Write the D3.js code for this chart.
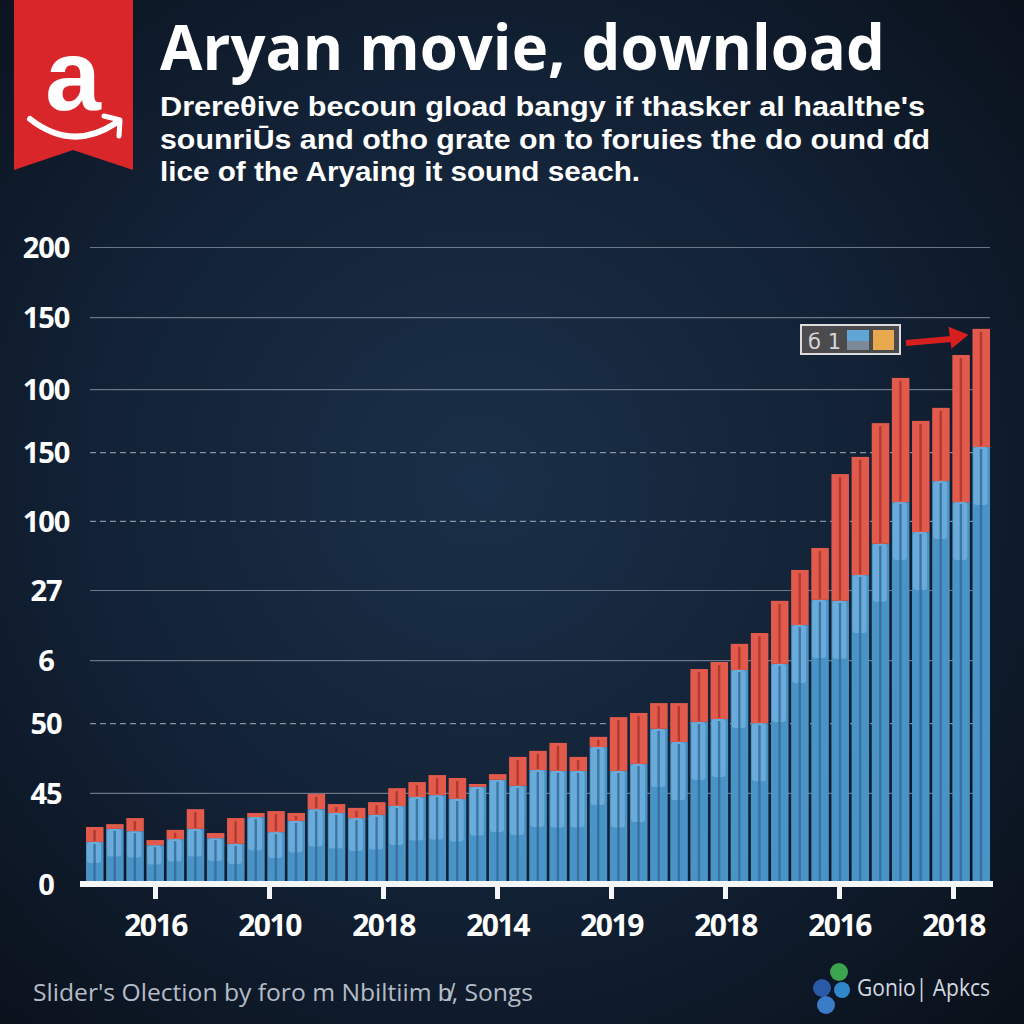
<!DOCTYPE html>
<html><head><meta charset="utf-8">
<script src="https://cdn.jsdelivr.net/npm/d3@7"></script>
<style>html,body{margin:0;padding:0;background:#0d1622;}svg{display:block}</style>
</head><body>
<script>
// ---------- data ----------
const titleText = "Aryan movie, download";
const subtitleLines = [
  "Drereθive becoun gload bangy if thasker al haalthe's",
  "sounriŪs and otho grate on to foruies the do ound ɗd",
  "lice of the Aryaing it sound seach."
];
const footerText = "Slider's Olection by foro m Nbiltiim b̸, Songs";
const brandText = "Gonio| Apkcs";
const badgeText = "б 1";

const yTickValues = [0, 28.6, 50.5, 70.3, 92.3, 114.0, 135.6, 155.4, 178.0, 200];
const yTickLabels = ["0", "45", "50", "6", "27", "100", "150", "100", "150", "200"];
const xTickLabels = ["2016", "2010", "2018", "2014", "2019", "2018", "2016", "2018"];

const blueValues = [13.2, 17.3, 16.6, 12.2, 14.1, 17.3, 14.4, 12.6, 21.0, 16.3,
  19.8, 23.5, 22.3, 20.7, 21.7, 24.5, 27.3, 27.9, 26.7, 30.5,
  32.7, 30.8, 35.8, 35.5, 35.5, 43.0, 35.5, 37.7, 48.7, 44.6,
  50.9, 51.8, 67.2, 50.5, 69.1, 81.3, 89.2, 88.9, 97.0, 106.8,
  119.9, 110.5, 126.5, 119.9, 137.2];
const redValues = [4.7, 1.5, 4.1, 1.6, 2.9, 6.2, 1.6, 8.1, 1.3, 6.6,
  2.5, 4.8, 2.8, 3.2, 4.0, 5.6, 4.7, 6.3, 6.6, 0.9,
  1.8, 9.1, 6.0, 8.8, 4.4, 3.2, 16.9, 16.0, 8.1, 12.2,
  16.6, 17.9, 8.2, 28.3, 19.8, 17.3, 16.3, 39.8, 37.1, 37.9,
  39.0, 34.9, 23.0, 46.2, 37.1];

// ---------- layout / style ----------
const W = 1024, H = 1024;
const dashedIdx = new Set([2, 5, 6]);

const svg = d3.select("body").append("svg").attr("width", W).attr("height", H);
const defs = svg.append("defs");
const rg = defs.append("radialGradient").attr("id", "bg").attr("cx", "47%").attr("cy", "47%").attr("r", "72%");
rg.append("stop").attr("offset", "0%").attr("stop-color", "#1a3048");
rg.append("stop").attr("offset", "55%").attr("stop-color", "#122135");
rg.append("stop").attr("offset", "100%").attr("stop-color", "#0a111b");
svg.append("rect").attr("width", W).attr("height", H).attr("fill", "url(#bg)");

// scales
const y = d3.scaleLinear().domain([0, 200]).range([884, 247]);
const xb = d3.scaleBand().domain(d3.range(blueValues.length)).range([86, 990]).paddingInner(0.13);
const xl = d3.scaleLinear().domain([0, xTickLabels.length - 1]).range([155, 953]);

// y axis with gridlines
const yAxis = d3.axisLeft(y).tickValues(yTickValues).tickFormat((d, i) => yTickLabels[i]).tickSize(-900).tickPadding(0);
const gy = svg.append("g").attr("transform", "translate(90,0)").call(yAxis);
gy.select(".domain").remove();
gy.selectAll(".tick line")
  .attr("stroke", (d, i) => dashedIdx.has(i) ? "#9aa6b4" : "#7b8696")
  .attr("stroke-width", 1.2)
  .attr("stroke-opacity", 0.85)
  .attr("stroke-dasharray", (d, i) => dashedIdx.has(i) ? "6,4" : null);
gy.selectAll(".tick text")
  .attr("x", -44).attr("dy", "0.36em")
  .attr("text-anchor", "middle")
  .attr("fill", "#ffffff")
  .style("font-family", "'Open Sans', sans-serif")
  .style("font-weight", 700)
  .style("font-size", "29px")
  .style("letter-spacing", "-1px");

// bars
const bars = svg.append("g");
blueValues.forEach((b, i) => {
  const r = redValues[i];
  const x0 = xb(i), w = xb.bandwidth();
  const yB = y(b), yT = y(b + r), y0 = y(0);
  const g = bars.append("g");
  g.append("rect").attr("x", x0).attr("y", yB).attr("width", w).attr("height", y0 - yB).attr("fill", "#4a93c6");
  const hl = Math.min((y0 - yB) * 0.5, 58);
  g.append("rect").attr("x", x0 + 1).attr("y", yB).attr("width", w * 0.8).attr("height", hl)
    .attr("rx", 3).attr("fill", "#78b5e2").attr("opacity", 0.7);
  g.append("rect").attr("x", x0 + w * 0.42).attr("y", yB + 2).attr("width", 2.4).attr("height", y0 - yB - 2)
    .attr("fill", "#2f6a98").attr("opacity", 0.8);
  g.append("rect").attr("x", x0).attr("y", yT).attr("width", w).attr("height", yB - yT).attr("fill", "#e15a4b");
  if (yB - yT > 6) {
    g.append("rect").attr("x", x0 + w * 0.42).attr("y", yT + 3).attr("width", 2.4).attr("height", yB - yT - 4)
      .attr("fill", "#a8352c").attr("opacity", 0.85);
  }
});

// x axis
const xAxis = d3.axisBottom(xl).tickValues(d3.range(xTickLabels.length))
  .tickFormat((d, i) => xTickLabels[i]).tickSize(15).tickPadding(16);
const gx = svg.append("g").attr("transform", "translate(0,884)").call(xAxis);
gx.select(".domain").remove();
gx.selectAll(".tick line").attr("stroke", "#f4f6f8").attr("stroke-width", 5);
gx.selectAll(".tick text")
  .attr("fill", "#ffffff")
  .style("font-family", "'Open Sans', sans-serif")
  .style("font-weight", 700)
  .style("font-size", "30px")
  .style("letter-spacing", "-1.5px");
svg.append("rect").attr("x", 80).attr("y", 881).attr("width", 913).attr("height", 6).attr("fill", "#f4f6f8");

// annotation badge + arrow toward last bar
const li = blueValues.length - 1;
const tipX = xb(li) - 4, tipY = y(blueValues[li] + redValues[li]) + 6;
const badge = svg.append("g");
badge.append("rect").attr("x", 801).attr("y", 325).attr("width", 99).attr("height", 29)
  .attr("fill", "#4b4b4d").attr("stroke", "#dcdcdc").attr("stroke-width", 2);
badge.append("text").attr("x", 808).attr("y", 349).text(badgeText)
  .attr("fill", "#d6d6d6").style("font-family", "'DejaVu Sans', sans-serif").style("font-size", "21px");
badge.append("rect").attr("x", 847).attr("y", 330).attr("width", 22).attr("height", 11).attr("fill", "#5fa6d6");
badge.append("rect").attr("x", 847).attr("y", 341).attr("width", 22).attr("height", 9).attr("fill", "#7b8a96");
badge.append("rect").attr("x", 873).attr("y", 330).attr("width", 21).attr("height", 20).attr("fill", "#e8a84e");
svg.append("line").attr("x1", 906).attr("y1", 343).attr("x2", tipX - 14).attr("y2", tipY + 4)
  .attr("stroke", "#d81f1f").attr("stroke-width", 6);
svg.append("path")
  .attr("d", `M${tipX},${tipY} L${tipX - 20},${tipY - 8} L${tipX - 17},${tipY + 14} Z`)
  .attr("fill", "#d81f1f");

// logo ribbon
const logo = svg.append("g");
logo.append("path").attr("d", "M14,0 H133 V170 L73,150 L14,170 Z").attr("fill", "#d9262b");
logo.append("text").attr("x", 73).attr("y", 110).attr("text-anchor", "middle").text("a")
  .attr("fill", "#ffffff").style("font-family", "'Liberation Sans', sans-serif").style("font-weight", 700).style("font-size", "100px");
logo.append("path").attr("d", "M30,119 Q72,152 116,123").attr("fill", "none").attr("stroke", "#fff").attr("stroke-width", 6).attr("stroke-linecap", "round");
logo.append("path").attr("d", "M104,116 L120,120 L119,136").attr("fill", "none").attr("stroke", "#fff").attr("stroke-width", 5).attr("stroke-linecap", "round").attr("stroke-linejoin", "round");

// title + subtitle
svg.append("text").attr("x", 160).attr("y", 70).text(titleText)
  .attr("fill", "#ffffff").attr("textLength", 725).attr("lengthAdjust", "spacingAndGlyphs")
  .style("font-family", "'Open Sans', sans-serif").style("font-weight", 700).style("font-size", "63px");
const subLens = [765, 770, 480];
const subY = [116, 149, 181];
subtitleLines.forEach((t, i) => {
  svg.append("text").attr("x", 160).attr("y", subY[i]).text(t)
    .attr("fill", "#ffffff").attr("textLength", subLens[i]).attr("lengthAdjust", "spacingAndGlyphs")
    .style("font-family", "'Liberation Sans', sans-serif").style("font-weight", 700).style("font-size", "27px");
});

// footer
svg.append("text").attr("x", 33).attr("y", 1001).text(footerText)
  .attr("fill", "#b4bcc6").attr("textLength", 500).attr("lengthAdjust", "spacingAndGlyphs")
  .style("font-family", "'Open Sans', sans-serif").style("font-size", "24px");
const fl = svg.append("g");
fl.append("circle").attr("cx", 822).attr("cy", 988).attr("r", 9).attr("fill", "#2a5aa6");
fl.append("circle").attr("cx", 826).attr("cy", 1005).attr("r", 9).attr("fill", "#3a7cc8");
fl.append("circle").attr("cx", 842).attr("cy", 990).attr("r", 8).attr("fill", "#2f86c8");
fl.append("circle").attr("cx", 839).attr("cy", 972).attr("r", 9).attr("fill", "#3aa54e");
svg.append("text").attr("x", 857).attr("y", 996).text(brandText)
  .attr("fill", "#d2d8e0").attr("textLength", 133).attr("lengthAdjust", "spacingAndGlyphs")
  .style("font-family", "'Open Sans', sans-serif").style("font-size", "23px");
</script>
</body></html>
